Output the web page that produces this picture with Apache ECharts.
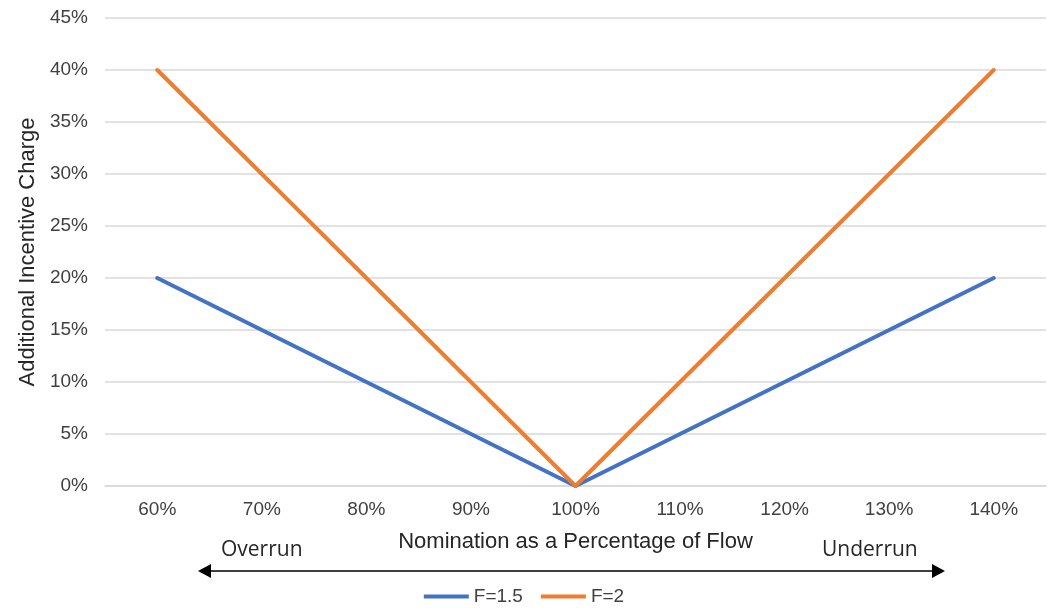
<!DOCTYPE html>
<html>
<head>
<meta charset="utf-8">
<script src="https://cdn.jsdelivr.net/npm/echarts@6/dist/echarts.min.js"></script>
<style>
  html, body { margin: 0; padding: 0; background: #fff; }
  #chart { width: 1048px; height: 611px; }
</style>
</head>
<body>
<div id="chart"></div>
<script>
// Nomination levels (percent of flow)
const categories = ['60%', '70%', '80%', '90%', '100%', '110%', '120%', '130%', '140%'];
// Additional incentive charge, in percent
const chargeF15 = [20, 15, 10, 5, 0, 5, 10, 15, 20];
const chargeF2 = [40, 30, 20, 10, 0, 10, 20, 30, 40];
const seriesNames = ['F=1.5', 'F=2'];

const font = 'Liberation Sans, Arial, sans-serif';
const textColor = '#404040';

const chart = echarts.init(document.getElementById('chart'), null, { renderer: 'canvas' });

chart.setOption({
  animation: false,
  backgroundColor: '#ffffff',
  textStyle: { fontFamily: font },
  grid: { left: 105, right: 2, top: 18, bottom: 125, containLabel: false },
  legend: {
    data: seriesNames,
    bottom: 0,
    left: 'center',
    icon: 'rect',
    itemWidth: 45,
    itemHeight: 4,
    itemGap: 18,
    textStyle: { fontSize: 19, color: textColor, fontFamily: font }
  },
  xAxis: {
    type: 'category',
    data: categories,
    boundaryGap: true,
    axisLine: { show: true, lineStyle: { color: '#d9d9d9', width: 1.5 } },
    axisTick: { show: false },
    axisLabel: { fontSize: 19, color: textColor, margin: 14 },
    name: 'Nomination as a Percentage of Flow',
    nameLocation: 'middle',
    nameGap: 45,
    nameTextStyle: { fontSize: 22, color: '#262626' }
  },
  yAxis: {
    type: 'value',
    min: 0,
    max: 45,
    interval: 5,
    axisLine: { show: false },
    axisTick: { show: false },
    axisLabel: { formatter: '{value}%', fontSize: 19, color: textColor, margin: 17 },
    splitLine: { lineStyle: { color: '#d9d9d9', width: 1.5 } },
    name: 'Additional Incentive Charge',
    nameLocation: 'middle',
    nameGap: 62,
    nameRotate: 90,
    nameTextStyle: { fontSize: 22, color: '#262626' }
  },
  series: [
    {
      name: seriesNames[0],
      type: 'line',
      data: chargeF15,
      symbol: 'none',
      color: '#4472C4',
      lineStyle: { width: 4, color: '#4472C4', cap: 'round', join: 'round' }
    },
    {
      name: seriesNames[1],
      type: 'line',
      data: chargeF2,
      symbol: 'none',
      color: '#ED7D31',
      lineStyle: { width: 4, color: '#ED7D31', cap: 'round', join: 'round' }
    }
  ],
  graphic: [
    // double-headed direction arrow under the axis
    {
      type: 'line',
      shape: { x1: 210, y1: 571, x2: 933, y2: 571 },
      style: { stroke: '#000', lineWidth: 1.5 }
    },
    {
      type: 'polygon',
      shape: { points: [[198, 571], [211, 564], [211, 578]] },
      style: { fill: '#000' }
    },
    {
      type: 'polygon',
      shape: { points: [[945, 571], [932, 564], [932, 578]] },
      style: { fill: '#000' }
    },
    {
      type: 'text',
      left: 221,
      top: 540,
      style: { text: 'Overrun', font: '21px "Open Sans", sans-serif', fill: '#262626' }
    },
    {
      type: 'text',
      left: 822,
      top: 540,
      style: { text: 'Underrun', font: '21px "Open Sans", sans-serif', fill: '#262626' }
    }
  ]
});
</script>
</body>
</html>
